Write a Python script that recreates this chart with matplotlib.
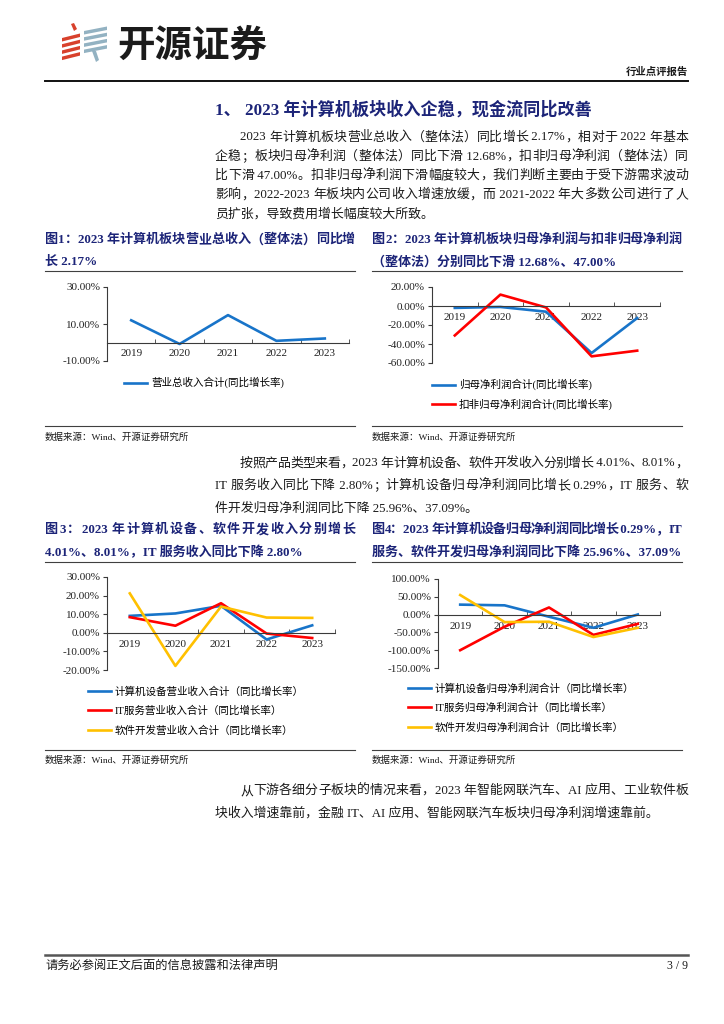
import re
import numpy as np
import matplotlib
matplotlib.use("Agg")
import matplotlib.pyplot as plt
from matplotlib.patches import Polygon
from matplotlib.lines import Line2D

# ---- data (YoY growth, %) ----
years = ['2019', '2020', '2021', '2022', '2023']

rev_total = [12.0, -0.8, 14.8, 0.9, 2.17]          # 营业总收入合计

np_parent = [-2.0, -1.0, -6.0, -49.5, -12.68]      # 归母净利润合计
np_deduct = [-31.0, 12.0, -1.5, -53.0, -47.00]     # 扣非归母净利润合计

rev_equip = [9.1, 10.4, 14.5, -3.6, 4.01]          # 计算机设备营业收入
rev_it = [8.4, 3.8, 15.9, -0.4, -2.80]             # IT服务营业收入
rev_soft = [21.2, -17.8, 14.1, 8.2, 8.01]          # 软件开发营业收入

np_equip = [28.0, 26.0, -6.0, -37.0, 0.29]         # 计算机设备归母净利润
np_it = [-100.0, -34.0, 20.0, -57.0, -25.96]       # IT服务归母净利润
np_soft = [55.0, -21.0, -20.0, -63.0, -37.09]      # 软件开发归母净利润

yticks1 = [-10, 10, 30]
yticks2 = [-60, -40, -20, 0, 20]
yticks3 = [-20, -10, 0, 10, 20, 30]
yticks4 = [-150, -100, -50, 0, 50, 100]

BLUE = '#1874c9'
RED = '#ff0000'
YELLOW = '#ffc000'
NAVY = '#1c2478'
INK = '#1a1a1a'
FONT = ['Liberation Serif', 'Noto Sans CJK SC']

plt.rcParams['font.family'] = FONT
plt.rcParams['axes.unicode_minus'] = False

W, H = 724, 1024
fig = plt.figure(figsize=(W / 100, H / 100), dpi=100)
renderer = fig.canvas.get_renderer()


def fy(y):
    return 1 - y / H


def add_ax(x0, y0, x1, y1):
    return fig.add_axes([x0 / W, 1 - y1 / H, (x1 - x0) / W, (y1 - y0) / H])


def hline(x0, x1, y, lw=0.8, color='#404040'):
    fig.add_artist(Line2D([x0 / W, x1 / W], [fy(y), fy(y)], lw=lw, color=color))


def put_line(x0, y, s, size, x1=None, **kw):
    """write one text line, spread out to x1 when given (justified)"""
    if x1 is None:
        fig.text(x0 / W, fy(y), s, fontsize=size, va='center', **kw)
        return
    toks = re.findall(r'[\x20-\x7e]+|.', s)
    texts = [fig.text(0, fy(y), t, fontsize=size, va='center', **kw) for t in toks]
    widths = [t.get_window_extent(renderer).width for t in texts]
    gap = (x1 - x0 - sum(widths)) / max(len(texts) - 1, 1)
    x = x0
    for t, w in zip(texts, widths):
        t.set_x(x / W)
        x += w + gap


def paragraph(lines, y0, step, size=9.3):
    for i, s in enumerate(lines):
        x0 = 240 if i == 0 else 215
        last = i == len(lines) - 1
        put_line(x0, y0 + i * step, s, size, None if last else 688, color=INK)


def style_ax(ax, ylim, yticks):
    ax.set_xlim(-0.5, 4.5)
    ax.set_ylim(*ylim)
    ax.patch.set_alpha(0)
    for side in ['top', 'right']:
        ax.spines[side].set_visible(False)
    ax.spines['bottom'].set_position(('data', 0))
    for side in ['bottom', 'left']:
        ax.spines[side].set_color('#3a3a3a')
        ax.spines[side].set_linewidth(0.8)
    ax.set_xticks(range(len(years)))
    ax.set_xticklabels(years)
    ax.set_xticks(np.arange(0.5, len(years), 1), minor=True)
    ax.tick_params(axis='x', which='major', length=0, pad=5, labelsize=8, colors='#222')
    ax.tick_params(axis='x', which='minor', direction='in', length=3, color='#3a3a3a')
    ax.set_yticks(yticks)
    ax.set_yticklabels([f'{v:.2f}%' for v in yticks])
    ax.tick_params(axis='y', length=3, pad=2, labelsize=8, colors='#3a3a3a', labelcolor='#222')


def legend(ax, x, y, gap=19.5):
    ax.legend(loc='upper left', bbox_to_anchor=(x / W, fy(y)), bbox_transform=fig.transFigure,
              frameon=False, fontsize=7.6, handlelength=2.2, handletextpad=0.35,
              labelspacing=(gap - 10.5) / 10.5, borderpad=0, borderaxespad=0)


# ---- header ----
logo = add_ax(55, 20, 115, 70)
logo.set_xlim(0, 60)
logo.set_ylim(50, 0)
logo.axis('off')
for i in range(4):
    yb = 15 + 6.2 * i
    logo.add_patch(Polygon([(7, yb + 3), (25, yb - 1.5), (25, yb + 2), (7, yb + 6.5)], color='#d8412c', lw=0))
    yb = 8 + 6.2 * i
    logo.add_patch(Polygon([(29, yb + 3), (52, yb - 1.5), (52, yb + 2), (29, yb + 6.5)], color='#93b2c2', lw=0))
logo.add_patch(Polygon([(16, 4), (19, 3), (22, 9), (19, 11)], color='#d8412c', lw=0))
logo.add_patch(Polygon([(37, 31), (41, 31), (44, 40), (41, 42)], color='#93b2c2', lw=0))

fig.text(117 / W, fy(45), '开源证券', fontsize=27, fontweight='bold', color='#1b1b1b',
         family='Noto Sans CJK SC', va='center')
fig.text(688 / W, fy(72), '行业点评报告', fontsize=7.5, fontweight='bold', color=INK,
         ha='right', va='center')
hline(45, 688, 80.5, lw=1.4, color='#111')

# ---- section 1 ----
fig.text(215 / W, fy(110), '1、 2023 年计算机板块收入企稳，现金流同比改善', fontsize=12.3,
         fontweight='bold', color=NAVY, va='center')
paragraph([
    '2023 年计算机板块营业总收入（整体法）同比增长 2.17%，相对于 2022 年基本',
    '企稳；板块归母净利润（整体法）同比下滑 12.68%，扣非归母净利润（整体法）同',
    '比下滑 47.00%。扣非归母净利润下滑幅度较大，我们判断主要由于受下游需求波动',
    '影响，2022-2023 年板块内公司收入增速放缓，而 2021-2022 年大多数公司进行了人',
    '员扩张，导致费用增长幅度较大所致。',
], 137.5, 19.2)

# ---- figure 1 ----
put_line(45, 240, '图1：2023 年计算机板块营业总收入（整体法）同比增', 9.4, 355,
         color=NAVY, fontweight='bold')
put_line(45, 262, '长 2.17%', 9.4, color=NAVY, fontweight='bold')
hline(45, 355, 270.5)
ax1 = add_ax(107, 287, 349, 361)
ax1.plot(range(len(years)), rev_total, color=BLUE, lw=1.9, label='营业总收入合计(同比增长率)')
style_ax(ax1, (-10, 30), yticks1)
legend(ax1, 124, 377)
hline(45, 355, 426)
fig.text(45 / W, fy(437), '数据来源：Wind、开源证券研究所', fontsize=6.8, color=INK, va='center')

# ---- figure 2 ----
put_line(372, 240, '图2：2023 年计算机板块归母净利润与扣非归母净利润', 9.4, 682,
         color=NAVY, fontweight='bold')
put_line(372, 262, '（整体法）分别同比下滑 12.68%、47.00%', 9.4, color=NAVY, fontweight='bold')
hline(372, 682, 270.5)
ax2 = add_ax(432, 287, 660, 363)
ax2.plot(range(len(years)), np_parent, color=BLUE, lw=1.9, label='归母净利润合计(同比增长率)')
ax2.plot(range(len(years)), np_deduct, color=RED, lw=1.9, label='扣非归母净利润合计(同比增长率)')
style_ax(ax2, (-60, 20), yticks2)
legend(ax2, 432, 379, gap=18.5)
hline(372, 682, 426)
fig.text(372 / W, fy(437), '数据来源：Wind、开源证券研究所', fontsize=6.8, color=INK, va='center')

# ---- section 2 text ----
paragraph([
    '按照产品类型来看，2023 年计算机设备、软件开发收入分别增长 4.01%、8.01%，',
    'IT 服务收入同比下降 2.80%；计算机设备归母净利润同比增长 0.29%，IT 服务、软',
    '件开发归母净利润同比下降 25.96%、37.09%。',
], 463.5, 22.3)

# ---- figure 3 ----
put_line(45, 530, '图3：2023 年计算机设备、软件开发收入分别增长', 9.4, 355,
         color=NAVY, fontweight='bold')
put_line(45, 553, '4.01%、8.01%，IT 服务收入同比下降 2.80%', 9.4, color=NAVY, fontweight='bold')
hline(45, 355, 561.5)
ax3 = add_ax(107, 577, 335, 670)
ax3.plot(range(len(years)), rev_equip, color=BLUE, lw=1.9, label='计算机设备营业收入合计（同比增长率）')
ax3.plot(range(len(years)), rev_it, color=RED, lw=1.9, label='IT服务营业收入合计（同比增长率）')
ax3.plot(range(len(years)), rev_soft, color=YELLOW, lw=1.9, label='软件开发营业收入合计（同比增长率）')
style_ax(ax3, (-20, 30), yticks3)
legend(ax3, 88, 686)
hline(45, 355, 750)
fig.text(45 / W, fy(760), '数据来源：Wind、开源证券研究所', fontsize=6.8, color=INK, va='center')

# ---- figure 4 ----
put_line(372, 530, '图4：2023 年计算机设备归母净利润同比增长 0.29%，IT', 9.4, 682,
         color=NAVY, fontweight='bold')
put_line(372, 553, '服务、软件开发归母净利润同比下降 25.96%、37.09%', 9.4, color=NAVY, fontweight='bold')
hline(372, 682, 561.5)
ax4 = add_ax(438, 579, 660, 668)
ax4.plot(range(len(years)), np_equip, color=BLUE, lw=1.9, label='计算机设备归母净利润合计（同比增长率）')
ax4.plot(range(len(years)), np_it, color=RED, lw=1.9, label='IT服务归母净利润合计（同比增长率）')
ax4.plot(range(len(years)), np_soft, color=YELLOW, lw=1.9, label='软件开发归母净利润合计（同比增长率）')
style_ax(ax4, (-150, 100), yticks4)
legend(ax4, 408, 683)
hline(372, 682, 750)
fig.text(372 / W, fy(760), '数据来源：Wind、开源证券研究所', fontsize=6.8, color=INK, va='center')

# ---- section 3 text ----
paragraph([
    '从下游各细分子板块的情况来看，2023 年智能网联汽车、AI 应用、工业软件板',
    '块收入增速靠前，金融 IT、AI 应用、智能网联汽车板块归母净利润增速靠前。',
], 791, 22.3)

# ---- footer ----
hline(45, 688, 955, lw=1.8, color='#555')
fig.text(45 / W, fy(966), '请务必参阅正文后面的信息披露和法律声明', fontsize=8.8, color=INK, va='center')
fig.text(688 / W, fy(966), '3 / 9', fontsize=8.5, color=INK, va='center', ha='right')

fig.savefig('out.png', dpi=100, facecolor='white')
